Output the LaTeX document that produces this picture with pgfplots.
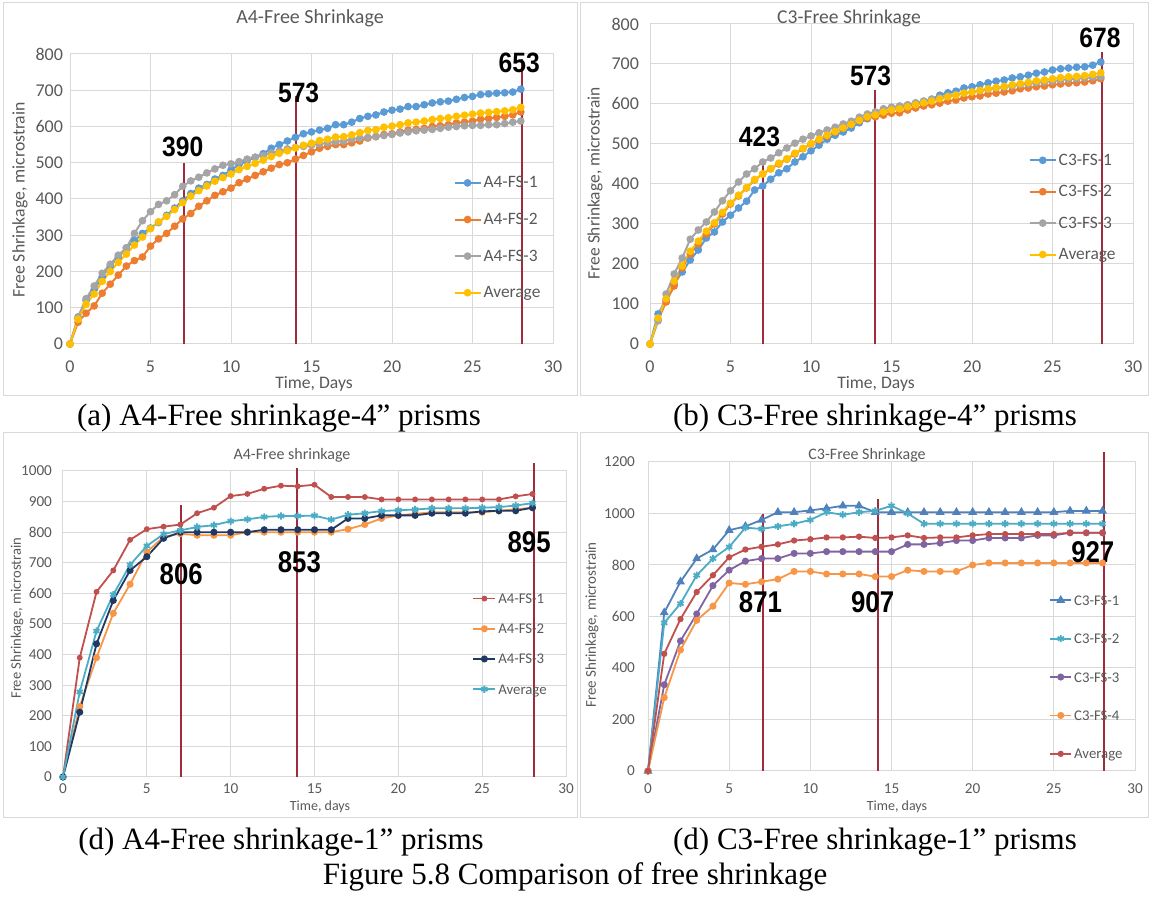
\documentclass[border=0pt]{standalone}
\usepackage{fontspec}
\setmainfont{Liberation Serif}
\newfontfamily\calib{Carlito}
\newfontfamily\arl{Liberation Sans}
\usepackage{pgfplots}
\usepackage{pgfplotstable}
\pgfplotsset{compat=1.18}

\definecolor{gridgray}{HTML}{D9D9D9}
\definecolor{framegray}{HTML}{D9D9D9}
\definecolor{tgray}{HTML}{595959}
\definecolor{cblue}{HTML}{5B9BD5}
\definecolor{corange}{HTML}{ED7D31}
\definecolor{cgray}{HTML}{A5A5A5}
\definecolor{cyellow}{HTML}{FFC000}
\definecolor{dred}{HTML}{C0504D}
\definecolor{dorange}{HTML}{F79646}
\definecolor{dnavy}{HTML}{1F3864}
\definecolor{dcyan}{HTML}{4BACC6}
\definecolor{dblue}{HTML}{4F81BD}
\definecolor{dpurple}{HTML}{8064A2}
\definecolor{vred}{HTML}{9E2B3E}

\newcommand\pp[2]{({(#1)*0.5pt},{(898-(#2))*0.5pt})}

\pgfplotstableread{
x s1 s2 s3 avg
0 0 0 0 0
0.5 70 60 75 68
1 120 85 125 110
1.5 150 105 160 138
2 185 140 195 173
2.5 215 165 220 200
3 240 190 245 225
3.5 265 215 265 248
4 285 230 305 273
4.5 305 240 340 295
5 320 270 365 318
5.5 335 290 385 337
6 355 305 395 352
6.5 375 325 412 371
7 395 345 435 390
7.5 415 360 450 408
8 430 380 460 423
8.5 440 395 472 436
9 455 410 483 449
9.5 465 420 493 459
10 480 430 497 469
10.5 495 445 503 481
11 505 455 510 490
11.5 515 465 515 498
12 525 475 520 507
12.5 540 485 527 517
13 550 495 532 526
13.5 560 500 538 533
14 570 510 542 541
14.5 580 520 545 548
15 585 530 548 554
15.5 590 540 552 561
16 595 545 555 565
16.5 605 550 558 571
17 605 550 560 572
17.5 612 555 565 577
18 622 560 568 583
18.5 628 568 570 589
19 632 572 572 591
19.5 640 578 575 598
20 645 580 578 601
20.5 648 585 582 605
21 655 590 585 610
21.5 655 592 588 612
22 660 595 590 615
22.5 665 600 592 619
23 668 602 595 622
23.5 670 605 598 624
24 675 610 600 628
24.5 680 612 602 631
25 683 615 603 634
25.5 688 620 603 637
26 690 622 605 639
26.5 692 625 605 641
27 693 628 608 643
27.5 695 632 612 646
28 703 640 615 653
}\tA

\pgfplotstableread{
x s1 s2 s3 avg
0 0 0 0 0
0.5 75 60 58 65
1 110 105 125 113
1.5 150 145 175 157
2 180 190 215 195
2.5 210 225 262 232
3 235 250 285 257
3.5 265 275 305 282
4 280 300 330 303
4.5 305 325 358 329
5 322 350 383 352
5.5 340 370 405 372
6 357 390 425 391
6.5 385 410 438 411
7 395 425 455 425
7.5 412 438 465 438
8 428 450 478 452
8.5 438 462 490 463
9 455 475 502 477
9.5 468 488 512 489
10 483 500 520 501
10.5 497 510 528 512
11 512 520 535 522
11.5 522 530 542 531
12 530 540 550 540
12.5 540 550 557 549
13 553 558 567 559
13.5 563 565 575 568
14 572 568 580 573
14.5 580 572 588 580
15 585 577 592 585
15.5 590 578 595 588
16 597 585 598 593
16.5 602 590 603 598
17 607 595 607 603
17.5 612 598 612 607
18 622 602 615 613
18.5 628 607 620 618
19 632 610 623 622
19.5 640 615 627 627
20 643 618 630 630
20.5 648 620 633 634
21 653 625 636 638
21.5 657 627 640 641
22 660 630 642 644
22.5 665 633 645 648
23 668 638 648 651
23.5 672 640 650 654
24 677 643 653 658
24.5 680 645 655 660
25 685 648 657 663
25.5 688 650 660 666
26 690 652 662 668
26.5 692 653 663 669
27 693 655 665 671
27.5 697 658 667 674
28 705 663 668 678
}\tB

\pgfplotstableread{
x s1 s2 s3 avg
0 0 0 0 0
1 390 230 212 278
2 605 390 435 477
3 675 535 577 596
4 775 630 675 693
5 810 735 720 755
6 818 785 780 794
7 825 795 800 806
8 862 790 800 817
9 880 790 800 823
10 918 790 800 836
11 925 800 800 842
12 942 800 808 850
13 952 800 808 853
14 950 800 808 853
15 955 800 808 854
16 915 800 808 841
17 915 810 845 857
18 915 825 845 862
19 907 845 855 869
20 907 855 855 872
21 907 860 855 874
22 907 865 862 878
23 907 865 862 878
24 907 865 862 878
25 907 865 868 880
26 907 870 870 882
27 917 875 870 887
28 925 880 880 895
}\tC

\pgfplotstableread{
x s1 s2 s3 s4 avg
0 0 0 0 0 0
1 615 575 335 285 455
2 735 650 505 470 590
3 825 760 610 585 695
4 860 825 720 640 760
5 935 870 780 730 830
6 950 945 815 725 860
7 975 940 825 735 871
8 1005 950 825 745 880
9 1005 960 845 775 895
10 1012 975 845 775 900
11 1020 1005 852 765 907
12 1030 995 852 765 907
13 1030 1005 852 765 910
14 1005 1010 852 755 905
15 1005 1030 852 755 907
16 1005 1000 880 780 915
17 1005 960 880 775 905
18 1005 960 885 775 907
19 1005 960 895 775 907
20 1005 960 895 800 915
21 1005 960 905 808 920
22 1005 960 905 808 920
23 1005 960 905 808 920
24 1005 960 915 808 920
25 1005 960 915 808 920
26 1010 960 925 808 925
27 1010 960 925 808 925
28 1010 960 925 808 925
}\tD

\pgfplotsset{
  base/.style={
    scale only axis, anchor=south west, clip=false,
    xmin=0, xmax=30, xtick={0,5,...,30},
    grid=major, major grid style={draw=gridgray, line width=0.5pt},
    axis line style={draw=gridgray, line width=0.5pt},
    major tick length=0pt,
    /pgf/number format/assume math mode=true,
    /pgf/number format/1000 sep={},
    ticklabel style={text=tgray},
    legend cell align=left,
    legend style={draw=none, fill=none, inner sep=0pt, text=tgray,
      nodes={inner sep=0pt, text height=5.5pt, text depth=0.5pt},
      column sep=1pt},
  },
  limg/.style={legend image code/.code={%
    \draw[mark repeat=2,mark phase=2,##1] plot coordinates {(0pt,0pt)(#1/2,0pt)(#1,0pt)};}},
}
\tikzset{
  vline/.style={draw=vred, line width=1pt},
  numlab/.style={font=\arl\bfseries\fontsize{14}{14}\selectfont, xscale=0.88, inner sep=0pt},
  numlabB/.style={font=\arl\bfseries\fontsize{15}{15}\selectfont, xscale=0.86, inner sep=0pt},
}

\begin{document}
\begin{tikzpicture}
\path[use as bounding box] (0,0) rectangle (575.5pt,449pt);
% frames
\draw[framegray, line width=0.5pt] \pp{3}{3} rectangle \pp{577}{396};
\draw[framegray, line width=0.5pt] \pp{580}{3} rectangle \pp{1148}{396};
\draw[framegray, line width=0.5pt] \pp{3}{433} rectangle \pp{577}{818};
\draw[framegray, line width=0.5pt] \pp{580}{433} rectangle \pp{1148}{818};

% ---------------- (a)
\begin{axis}[base, at={(35pt,277pt)}, width=241.5pt, height=145pt,
  ymin=0, ymax=800, ytick={0,100,...,800},
  ticklabel style={font=\calib\fontsize{9}{10}\selectfont},
  xticklabel style={yshift=-5pt},
  every axis plot/.append style={line width=1pt, mark size=1.4pt, mark options={solid}},
  limg=13pt,
  legend style={font=\calib\fontsize{8.7}{9}\selectfont, at={(0.7933,0.5775)}, anchor=north west, row sep=12.3pt}]
\addplot[cblue, mark=*] table[x=x,y=s1]{\tA}; \addlegendentry{A4-FS-1}
\addplot[corange, mark=*] table[x=x,y=s2]{\tA}; \addlegendentry{A4-FS-2}
\addplot[cgray, mark=*] table[x=x,y=s3]{\tA}; \addlegendentry{A4-FS-3}
\addplot[cyellow, mark=*] table[x=x,y=avg]{\tA}; \addlegendentry{Average}
\draw[vline] (axis cs:7.1,0) -- (axis cs:7.1,500);
\draw[vline] (axis cs:14.05,0) -- (axis cs:14.05,685);
\draw[vline] (axis cs:28.05,0) -- (axis cs:28.05,785);
\node[numlab] at (axis cs:7.0,545) {390};
\node[numlab] at (axis cs:14.2,692) {573};
\node[numlab] at (axis cs:27.9,775) {653};
\end{axis}
\node[font=\calib\fontsize{10}{12}\selectfont, text=tgray] at \pp{310}{18} {A4-Free Shrinkage};
\node[font=\calib\fontsize{8.85}{10}\selectfont, text=tgray, rotate=90] at \pp{20}{200} {Free Shrinkage, microstrain};
\node[font=\calib\fontsize{8.8}{10}\selectfont, text=tgray] at \pp{314}{384} {Time, Days};

% ---------------- (b)
\begin{axis}[base, at={(325pt,277pt)}, width=241.5pt, height=160pt,
  ymin=0, ymax=800, ytick={0,100,...,800},
  ticklabel style={font=\calib\fontsize{9}{10}\selectfont},
  xticklabel style={yshift=-5pt}, yticklabel style={xshift=-2pt},
  every axis plot/.append style={line width=1pt, mark size=1.4pt, mark options={solid}},
  limg=13pt,
  legend style={font=\calib\fontsize{8.7}{9}\selectfont, at={(0.7833,0.594)}, anchor=north west, row sep=9.7pt}]
\addplot[cblue, mark=*] table[x=x,y=s1]{\tB}; \addlegendentry{C3-FS-1}
\addplot[corange, mark=*] table[x=x,y=s2]{\tB}; \addlegendentry{C3-FS-2}
\addplot[cgray, mark=*] table[x=x,y=s3]{\tB}; \addlegendentry{C3-FS-3}
\addplot[cyellow, mark=*] table[x=x,y=avg]{\tB}; \addlegendentry{Average}
\draw[vline] (axis cs:7.0,0) -- (axis cs:7.0,460);
\draw[vline] (axis cs:13.95,0) -- (axis cs:13.95,635);
\draw[vline] (axis cs:28.1,0) -- (axis cs:28.1,730);
\node[numlab] at (axis cs:6.8,518) {423};
\node[numlab] at (axis cs:13.7,670) {573};
\node[numlab] at (axis cs:27.95,765) {678};
\end{axis}
\node[font=\calib\fontsize{9.8}{12}\selectfont, text=tgray] at \pp{849}{18} {C3-Free Shrinkage};
\node[font=\calib\fontsize{8.7}{10}\selectfont, text=tgray, rotate=90] at \pp{595}{183} {Free Shrinkage, microstrain};
\node[font=\calib\fontsize{8.8}{10}\selectfont, text=tgray] at \pp{876}{384} {Time, Days};

% ---------------- (c)
\begin{axis}[base, at={(31.5pt,60.5pt)}, width=251.5pt, height=153pt,
  ymin=0, ymax=1000, ytick={0,100,...,1000},
  ticklabel style={font=\calib\fontsize{7.6}{9}\selectfont},
  yticklabel style={xshift=-2pt},
  every axis plot/.append style={line width=0.9pt, mark size=1.3pt, mark options={solid}},
  limg=11pt,
  legend style={font=\calib\fontsize{7.4}{9}\selectfont, at={(0.8133,0.604)}, anchor=north west, row sep=9.1pt}]
\addplot[dred, mark=*, mark size=1pt] table[x=x,y=s1]{\tC}; \addlegendentry{A4-FS-1}
\addplot[dorange, mark=*] table[x=x,y=s2]{\tC}; \addlegendentry{A4-FS-2}
\addplot[dnavy, mark=*] table[x=x,y=s3]{\tC}; \addlegendentry{A4-FS-3}
\addplot[dcyan, mark=asterisk, mark size=1.8pt] table[x=x,y=avg]{\tC}; \addlegendentry{Average}
\draw[vline] (axis cs:7.05,0) -- (axis cs:7.05,889);
\draw[vline] (axis cs:13.95,0) -- (axis cs:13.95,1010);
\draw[vline] (axis cs:28.07,0) -- (axis cs:28.07,1025);
\node[numlabB] at (axis cs:7.05,663) {806};
\node[numlabB] at (axis cs:14.1,703) {853};
\node[numlabB] at (axis cs:27.8,768) {895};
\end{axis}
\node[font=\calib\fontsize{8}{10}\selectfont, text=tgray] at \pp{292}{455} {A4-Free shrinkage};
\node[font=\calib\fontsize{7.3}{9}\selectfont, text=tgray, rotate=90] at \pp{17}{618} {Free Shrinkage, microstrain};
\node[font=\calib\fontsize{7}{9}\selectfont, text=tgray] at \pp{320}{807} {Time, days};

% ---------------- (d)
\begin{axis}[base, at={(324pt,63.5pt)}, width=243.5pt, height=154.5pt,
  ymin=0, ymax=1200, ytick={0,200,...,1200},
  ticklabel style={font=\calib\fontsize{7.6}{9}\selectfont},
  xticklabel style={yshift=-3pt}, yticklabel style={xshift=-3pt},
  every axis plot/.append style={line width=0.9pt, mark size=1.3pt, mark options={solid}},
  limg=10.5pt,
  legend style={font=\calib\fontsize{7.4}{9}\selectfont, at={(0.8233,0.5733)}, anchor=north west, row sep=13.2pt}]
\addplot[dblue, mark=triangle*, mark size=1.7pt] table[x=x,y=s1]{\tD}; \addlegendentry{C3-FS-1}
\addplot[dcyan, mark=asterisk, mark size=1.8pt] table[x=x,y=s2]{\tD}; \addlegendentry{C3-FS-2}
\addplot[dpurple, mark=*] table[x=x,y=s3]{\tD}; \addlegendentry{C3-FS-3}
\addplot[dorange, mark=*] table[x=x,y=s4]{\tD}; \addlegendentry{C3-FS-4}
\addplot[dred, mark=*, mark size=1.1pt] table[x=x,y=avg]{\tD}; \addlegendentry{Average}
\draw[vline] (axis cs:7.09,0) -- (axis cs:7.09,998);
\draw[vline] (axis cs:14.17,0) -- (axis cs:14.17,1056);
\draw[vline] (axis cs:28.1,0) -- (axis cs:28.1,1239);
\node[numlabB] at (axis cs:6.93,657) {871};
\node[numlabB] at (axis cs:13.84,657) {907};
\node[numlabB] at (axis cs:27.4,851) {927};
\end{axis}
\node[font=\calib\fontsize{8}{10}\selectfont, text=tgray] at \pp{867}{455} {C3-Free Shrinkage};
\node[font=\calib\fontsize{7.5}{9}\selectfont, text=tgray, rotate=90] at \pp{592}{625} {Free Shrinkage, microstrain};
\node[font=\calib\fontsize{7}{9}\selectfont, text=tgray] at \pp{897}{807} {Time, days};

% captions
\node[font=\fontsize{15.5}{17}\selectfont] at \pp{279}{418} {(a) A4-Free shrinkage-4” prisms};
\node[font=\fontsize{15.5}{17}\selectfont] at \pp{875}{418} {(b) C3-Free shrinkage-4” prisms};
\node[font=\fontsize{15.5}{17}\selectfont] at \pp{281}{842} {(d) A4-Free shrinkage-1” prisms};
\node[font=\fontsize{15.5}{17}\selectfont] at \pp{875}{842} {(d) C3-Free shrinkage-1” prisms};
\node[font=\fontsize{15.5}{17}\selectfont] at \pp{575}{877} {Figure 5.8 Comparison of free shrinkage};
\end{tikzpicture}
\end{document}
